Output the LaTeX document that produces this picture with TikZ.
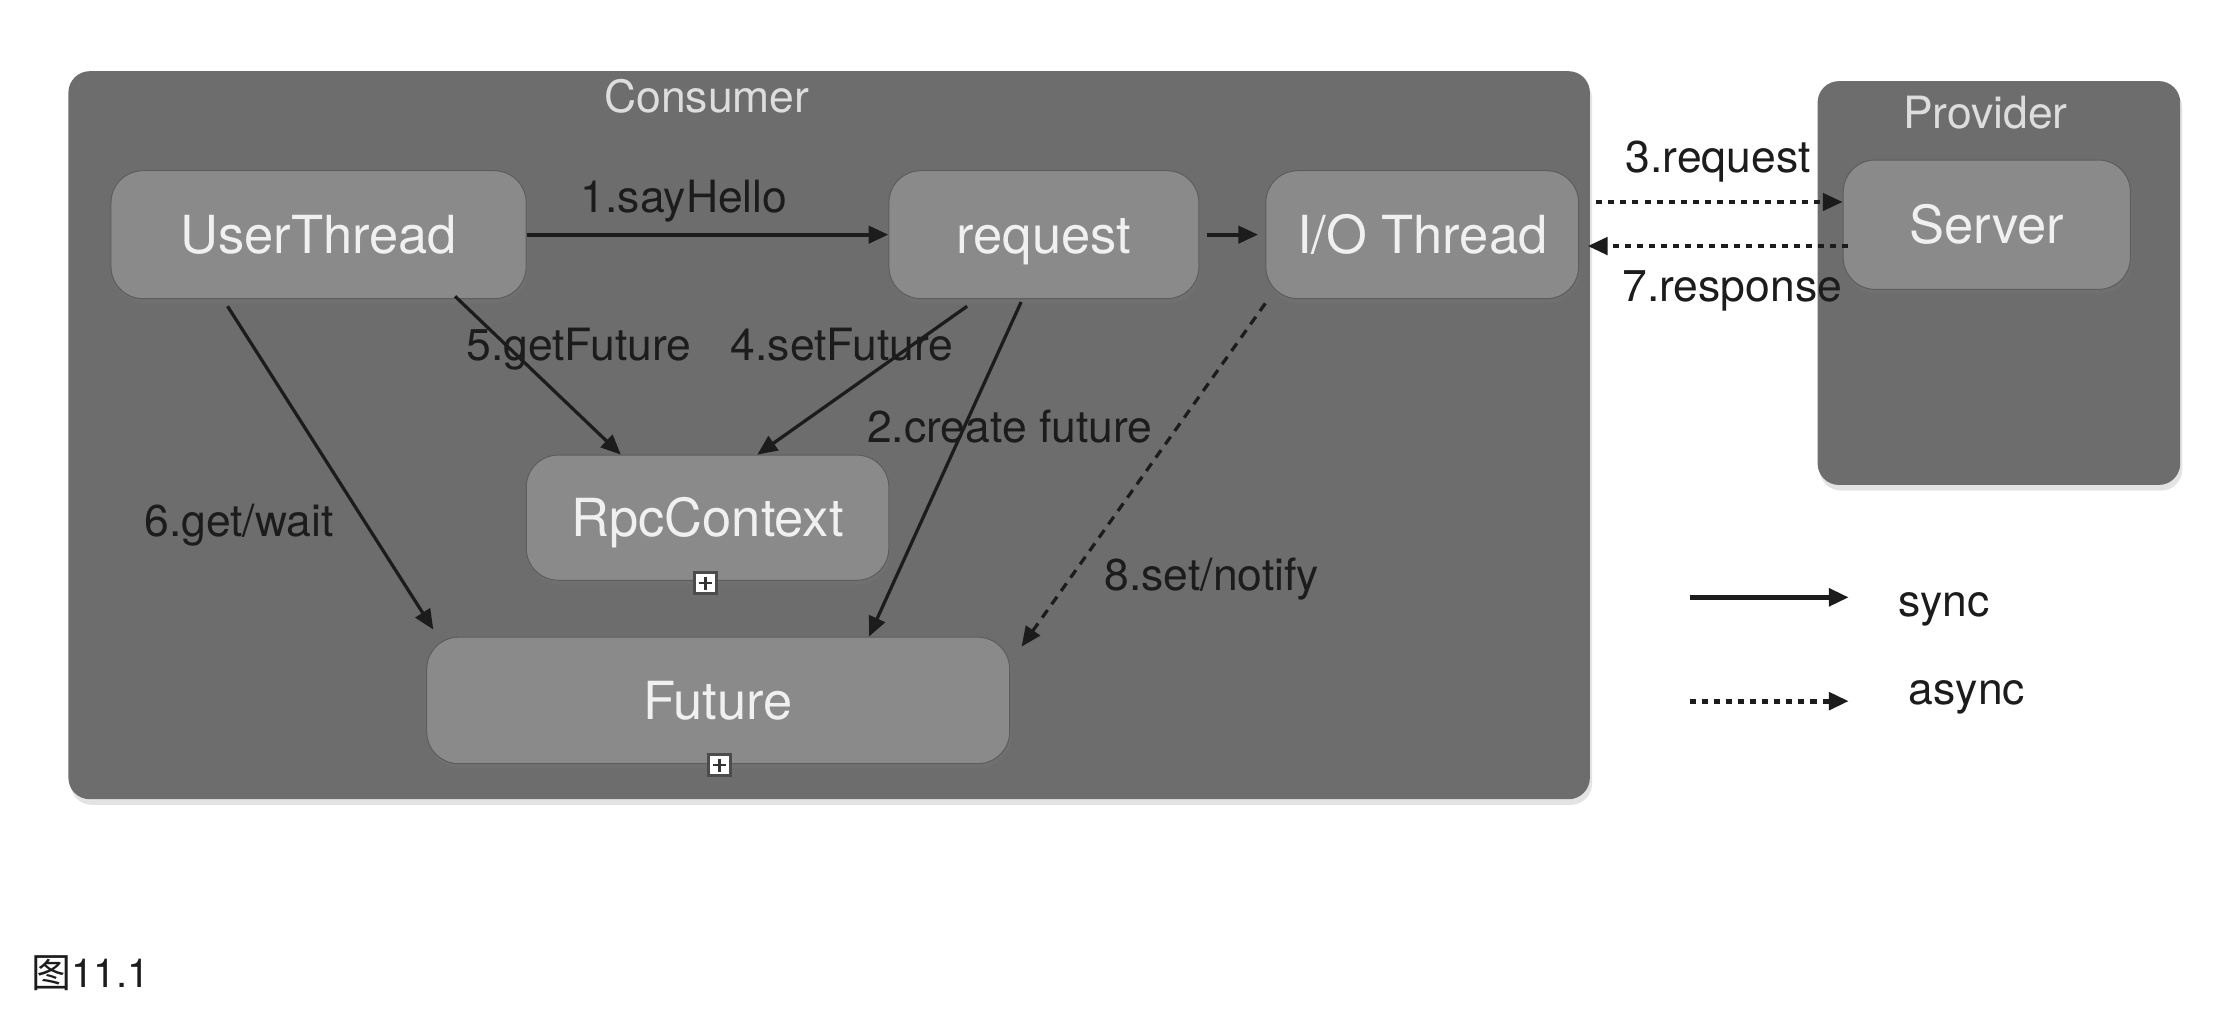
\documentclass[tikz,border=0pt]{standalone}
\usepackage{fontspec}
\setmainfont{TeX Gyre Heros}
\newfontfamily\cjkfont{Noto Sans CJK SC}
\usetikzlibrary{arrows.meta,shadows,calc}
\definecolor{boxbg}{HTML}{6D6D6D}
\definecolor{nodebg}{HTML}{8A8A8A}
\definecolor{txtw}{HTML}{F0F0F0}
\definecolor{lbl}{HTML}{1C1C1C}
\begin{document}
\begin{tikzpicture}[x=0.02cm,y=-0.02cm,
  container/.style={draw=none, fill=boxbg, rounded corners=0.3cm,
    drop shadow={opacity=0.22,shadow xshift=0.03cm,shadow yshift=-0.08cm}},
  comp/.style={fill=nodebg, rounded corners=0.45cm, draw=black!15!boxbg, line width=0.4pt,
    text=txtw, font=\fontsize{21}{25}\selectfont, inner sep=0pt,
    text height=0.53cm, text depth=0pt,
    drop shadow={opacity=0.18,shadow xshift=0.02cm,shadow yshift=-0.06cm}},
  lab/.style={text=lbl, font=\fontsize{17.8}{21}\selectfont, inner sep=0pt,
    text height=0.45cm, text depth=0pt},
  title/.style={text=txtw!92!black, font=\fontsize{17.8}{21}\selectfont, inner sep=0pt,
    text height=0.45cm, text depth=0pt},
  sync/.style={draw=lbl, line width=1.3pt, -{Triangle[length=0.28cm,width=0.24cm]}},
  async/.style={draw=lbl, line width=1.3pt, dash pattern=on 0.13cm off 0.1cm,
    -{Triangle[length=0.28cm,width=0.24cm]}},
  icon/.style={draw=black!70, fill=white, minimum size=0.3cm, inner sep=0pt, line width=1.2pt,
    path picture={\draw[black!80,line width=1pt]
      ([yshift=-0.06cm]path picture bounding box.north) -- ([yshift=0.06cm]path picture bounding box.south)
      ([xshift=0.06cm]path picture bounding box.west) -- ([xshift=-0.06cm]path picture bounding box.east);}}
]
\fill[white] (0,0) rectangle (1568,710);
\useasboundingbox (0,0) rectangle (1568,710);

% containers
\node[container, minimum width=21.4cm, minimum height=10.24cm] (cons) at (583,306) {};
\node[container, minimum width=5.1cm, minimum height=5.68cm] (prov) at (1405.5,199) {};
\node[title] (constitle) at (497,68) {Consumer};
\node[title] (provtitle) at (1396,79) {Provider};

% components
\node[comp, minimum width=5.84cm, minimum height=1.8cm] (ut) at (224,165) {UserThread};
\node[comp, minimum width=4.36cm, minimum height=1.8cm] (req) at (734,165) {request};
\node[comp, minimum width=4.4cm, minimum height=1.8cm] (io) at (1000,165) {I/O Thread};
\node[comp, minimum width=4.04cm, minimum height=1.82cm] (srv) at (1397,158) {Server};
\node[comp, minimum width=5.1cm, minimum height=1.76cm] (rpc) at (497.5,364) {RpcContext};
\node[comp, minimum width=8.2cm, minimum height=1.78cm] (fut) at (505,492.5) {Future};
\node[icon] (ic1) at (496,410) {};
\node[icon] (ic2) at (506,538) {};

% connectors
\draw[sync, line width=1.7pt] (ut.east) -- (req.west);
\draw[sync, line width=1.7pt] ([xshift=0.1cm]req.east) -- ([xshift=-0.1cm]io.west);
\draw[async, line width=1.8pt, dash pattern=on 0.085cm off 0.085cm]
  ([xshift=0.24cm,yshift=0.46cm]io.east) coordinate (a3s) -- (a3s -| srv.west);
\draw[async, line width=1.8pt, dash pattern=on 0.085cm off 0.085cm]
  ([xshift=0.08cm,yshift=-0.3cm]srv.west) coordinate (a7s) -- ($(a7s -| io.east)+(0.12cm,0)$);
\draw[sync] ([xshift=1.92cm,yshift=0.04cm]ut.south) -- ([xshift=-1.22cm]rpc.north);
\draw[sync] ([xshift=-1.08cm,yshift=-0.1cm]req.south) -- ([xshift=0.7cm]rpc.north);
\draw[sync] ([xshift=-0.32cm,yshift=-0.04cm]req.south) -- ([xshift=2.12cm]fut.north);
\draw[sync] ([xshift=-1.28cm,yshift=-0.1cm]ut.south) -- ([xshift=0.1cm,yshift=0.1cm]fut.north west);
\draw[async] ([yshift=-0.06cm]io.south west) -- ([xshift=0.16cm,yshift=-0.14cm]fut.north east);

% labels
\node[lab] (l1) at (481,138) {1.sayHello};
\node[lab] (l5) at (407,242) {5.getFuture};
\node[lab] (l4) at (592,242) {4.setFuture};
\node[lab] (l2) at (710,300) {2.create future};
\node[lab] (l6) at (168,366) {6.get/wait};
\node[lab] (l8) at (852,404) {8.set/notify};
\node[lab] (l3) at (1208,110) {3.request};
\node[lab] (l7) at (1218,201) {7.response};

% legend
\coordinate (lgs) at (1188,420);
\coordinate (lge) at (1300,420);
\coordinate (lgas) at (1188,493);
\coordinate (lgae) at (1300,493);
\draw[sync, line width=2pt] (lgs) -- (lge);
\draw[async, line width=2pt, dash pattern=on 0.085cm off 0.085cm] (lgas) -- (lgae);
\node[lab] (lsync) at (1367,422) {sync};
\node[lab] (lasync) at (1383,484) {async};

% caption
\node[lab, anchor=west, font=\fontsize{16}{19}\selectfont] (cap) at (22,683) {{\cjkfont 图}11.1};
\end{tikzpicture}
\end{document}
